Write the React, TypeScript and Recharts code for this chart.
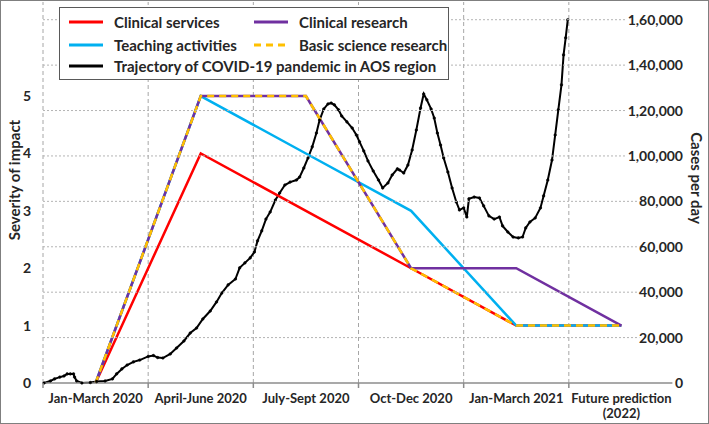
import React from 'react';
import { LineChart, Line, XAxis, YAxis, ReferenceLine, Label } from 'recharts';

const quarters = [
  'Jan-March 2020',
  'April-June 2020',
  'July-Sept 2020',
  'Oct-Dec 2020',
  'Jan-March 2021',
  'Future prediction (2022)',
];

// severity of impact per quarter (0-5)
const clinicalServices = [0, 4, 3, 2, 1, 1];
const teachingActivities = [0, 5, 4, 3, 1, 1];
const clinicalResearch = [0, 5, 5, 2, 2, 1];
const basicScienceResearch = [0, 5, 5, 2, 1, 1];

const severityTicks = [0, 1, 2, 3, 4, 5];
const casesTicks = [0, 20000, 40000, 60000, 80000, 100000, 120000, 140000, 160000];

// COVID-19 trajectory: time in quarters since Jan 2020, cases per day
const covidTime = [
  0.01, 0.07, 0.11, 0.16, 0.2, 0.23, 0.26, 0.29, 0.3, 0.32,
  0.37, 0.45, 0.51, 0.59, 0.66, 0.7, 0.75, 0.8, 0.86, 0.92,
  1.0, 1.05, 1.09, 1.14, 1.21, 1.27, 1.34, 1.4, 1.46, 1.52,
  1.59, 1.65, 1.7, 1.76, 1.83, 1.87, 1.92, 1.97, 2.01, 2.04,
  2.08, 2.12, 2.16, 2.21, 2.25, 2.3, 2.35, 2.41, 2.44, 2.48,
  2.52, 2.56, 2.6, 2.63, 2.67, 2.71, 2.74, 2.77, 2.81, 2.84,
  2.89, 2.94, 2.98, 3.01, 3.05, 3.09, 3.14, 3.19, 3.23, 3.28,
  3.32, 3.37, 3.39, 3.43, 3.47, 3.51, 3.55, 3.59, 3.62, 3.65,
  3.69, 3.72, 3.75, 3.78, 3.81, 3.85, 3.89, 3.93, 3.96, 4.0,
  4.03, 4.05, 4.1, 4.15, 4.19, 4.24, 4.29, 4.34, 4.37, 4.42,
  4.47, 4.52, 4.56, 4.59, 4.63, 4.68, 4.73, 4.76, 4.8, 4.84,
  4.87, 4.9, 4.93, 4.95, 4.97, 4.99,
];
const covidCases = [
  0, 900, 1800, 2600, 3100, 4000, 4000, 4000, 2600, 900,
  0, 200, 700, 900, 1800, 4000, 6200, 7900, 9300, 10100,
  11700, 12100, 11200, 11000, 12800, 15400, 18500, 22000, 24200, 28200,
  31700, 35700, 39600, 43200, 45800, 50700, 52900, 55100, 57700, 62600,
  67000, 72200, 75300, 80600, 83700, 87200, 88500, 89400, 90700, 94700,
  99100, 104000, 110100, 115800, 120700, 122900, 123300, 122500, 120300, 117600,
  115000, 112300, 109200, 106200, 102200, 97800, 93400, 89400, 85900, 88100,
  91600, 94300, 93800, 92500, 96000, 102600, 111400, 121100, 127300, 124700,
  120700, 116700, 110100, 104800, 99100, 92900, 85900, 79700, 76200, 77100,
  73100, 81100, 81900, 81500, 78000, 73600, 72200, 73100, 69200, 66500,
  64300, 63900, 64300, 68300, 70900, 72700, 77100, 82400, 89400, 98200,
  109200, 120300, 131300, 144500, 152000, 160000,
];

const impactData = quarters.map((q, i) => ({
  t: i + 0.5,
  clinicalServices: clinicalServices[i],
  teachingActivities: teachingActivities[i],
  clinicalResearch: clinicalResearch[i],
  basicScienceResearch: basicScienceResearch[i],
}));

const covidData = covidTime.map((t, i) => ({ t, cases: covidCases[i] }));

// boundaries get tick marks, half steps get the quarter labels
const xTicks = quarters.flatMap((_, i) => [i, i + 0.5]);

const FONT = 'Lato, "Open Sans", sans-serif';
const TEXT = '#262626';
const LEFT_AXIS_WIDTH = 43;

const legendItems = [
  { name: 'Clinical services', color: '#ff0000', dashed: false },
  { name: 'Clinical research', color: '#7030a0', dashed: false },
  { name: 'Teaching activities', color: '#00b0f0', dashed: false },
  { name: 'Basic science research', color: '#ffc000', dashed: true },
  { name: 'Trajectory of COVID-19 pandemic in AOS region', color: '#000000', dashed: false },
];

// 160000 -> 1,60,000
function formatIndian(n: number) {
  const s = String(Math.round(n));
  if (s.length <= 3) return s;
  const last3 = s.slice(-3);
  const rest = s.slice(0, -3).replace(/\B(?=(\d{2})+(?!\d))/g, ',');
  return rest + ',' + last3;
}

const QuarterTick = ({ x, y, payload }: any) => {
  const v = payload.value;
  if (Number.isInteger(v)) {
    return <line x1={x} x2={x} y1={y} y2={y + 5} stroke="#8c8c8c" strokeWidth={1.5} />;
  }
  const label = quarters[Math.floor(v)];
  const parts = label.includes(' (') ? [label.split(' (')[0], '(' + label.split(' (')[1]] : [label];
  return (
    <text x={x} y={y + 20} textAnchor="middle" fill={TEXT} fontSize={13} fontWeight={700} fontFamily={FONT}>
      {parts.map((p, i) => (
        <tspan key={i} x={x} dy={i === 0 ? 0 : 15}>{p}</tspan>
      ))}
    </text>
  );
};

// right-axis tick: dotted gridline across the plot, then the label on a white patch
const CasesTick = ({ x, y, payload }: any) => {
  const label = formatIndian(payload.value);
  const w = label.length * 6.6 + 4;
  return (
    <g>
      {payload.value > 0 && (
        <line x1={LEFT_AXIS_WIDTH} x2={x} y1={y} y2={y} stroke="#b4b4b4" strokeWidth={1} strokeDasharray="2 2" />
      )}
      <rect x={x + 9 - w} y={y - 8} width={w + 1} height={16} fill="#ffffff" />
      <text x={x + 9} y={y} dy={5} textAnchor="end" fill={TEXT} fontSize={14} fontWeight={700} fontFamily={FONT}>
        {label}
      </text>
    </g>
  );
};

const Swatch = ({ color, dashed }: { color: string; dashed: boolean }) => (
  <svg width={34} height={6} style={{ marginRight: 11, flex: 'none' }}>
    <line x1={0} x2={34} y1={3} y2={3} stroke={color} strokeWidth={3} strokeDasharray={dashed ? '7 5' : undefined} />
  </svg>
);

const ChartLegend = () => {
  const slots = [
    { left: 9, top: 3 },
    { left: 194, top: 3 },
    { left: 9, top: 26 },
    { left: 194, top: 26 },
    { left: 9, top: 47 },
  ];
  return (
    <div
      style={{
        position: 'absolute',
        left: 59,
        top: 7,
        width: 390,
        height: 73,
        boxSizing: 'border-box',
        border: '1.5px solid #595959',
        background: '#fff',
      }}
    >
      {legendItems.map((item, i) => (
        <div
          key={item.name}
          style={{
            position: 'absolute',
            left: slots[i].left,
            top: slots[i].top,
            height: 22,
            display: 'flex',
            alignItems: 'center',
            whiteSpace: 'nowrap',
            fontFamily: FONT,
            fontWeight: 700,
            fontSize: 15,
            color: TEXT,
          }}
        >
          <Swatch color={item.color} dashed={item.dashed} />
          {item.name}
        </div>
      ))}
    </div>
  );
};

export default function App() {
  return (
    <div style={{ position: 'fixed', left: 0, top: 0, width: 709, height: 424, background: '#fff' }}>
      <LineChart width={709} height={424} margin={{ top: 2, right: 0, bottom: 0, left: 0 }}>
        <XAxis
          xAxisId="q"
          type="number"
          dataKey="t"
          domain={[0, 6]}
          ticks={xTicks}
          interval={0}
          height={41}
          tickSize={0}
          tickMargin={0}
          tickLine={false}
          axisLine={{ stroke: '#8c8c8c', strokeWidth: 1.5 }}
          tick={<QuarterTick />}
        />
        <YAxis
          yAxisId="right"
          orientation="right"
          type="number"
          domain={[0, 167800]}
          ticks={casesTicks}
          width={35}
          tickSize={0}
          tickMargin={0}
          axisLine={false}
          tickLine={false}
          tick={<CasesTick />}
        >
          <Label
            content={() => (
              <text
                x={697}
                y={178}
                transform="rotate(90 697 178)"
                textAnchor="middle"
                dominantBaseline="central"
                fill={TEXT}
                fontSize={15}
                fontWeight={700}
                fontFamily={FONT}
              >
                Cases per day
              </text>
            )}
          />
        </YAxis>
        <YAxis
          yAxisId="left"
          orientation="left"
          type="number"
          domain={[0, 6.64]}
          ticks={severityTicks}
          width={LEFT_AXIS_WIDTH}
          tickSize={0}
          tickMargin={12}
          axisLine={false}
          tickLine={false}
          tick={{ fill: TEXT, fontSize: 14, fontWeight: 700, fontFamily: FONT }}
        >
          <Label
            content={() => (
              <text
                x={14}
                y={180}
                transform="rotate(-90 14 180)"
                textAnchor="middle"
                dominantBaseline="central"
                fill={TEXT}
                fontSize={15}
                fontWeight={700}
                fontFamily={FONT}
              >
                Severity of impact
              </text>
            )}
          />
        </YAxis>
        {quarters.map((q, i) => (
          <ReferenceLine
            key={q}
            xAxisId="q"
            yAxisId="left"
            x={i}
            stroke="#a6a6a6"
            strokeDasharray="4 3"
          />
        ))}
        <Line
          xAxisId="q"
          yAxisId="right"
          data={covidData}
          dataKey="cases"
          type="linear"
          stroke="#000"
          strokeWidth={2}
          dot={{ r: 1.3, fill: '#000', stroke: '#000', strokeWidth: 0.5 }}
          isAnimationActive={false}
        />
        <Line xAxisId="q" yAxisId="left" data={impactData} dataKey="clinicalServices" type="linear" stroke="#ff0000" strokeWidth={2.5} dot={false} isAnimationActive={false} />
        <Line xAxisId="q" yAxisId="left" data={impactData} dataKey="teachingActivities" type="linear" stroke="#00b0f0" strokeWidth={2.5} dot={false} isAnimationActive={false} />
        <Line xAxisId="q" yAxisId="left" data={impactData} dataKey="clinicalResearch" type="linear" stroke="#7030a0" strokeWidth={2.5} dot={false} isAnimationActive={false} />
        <Line xAxisId="q" yAxisId="left" data={impactData} dataKey="basicScienceResearch" type="linear" stroke="#ffc000" strokeWidth={2.5} strokeDasharray="7 5" dot={false} isAnimationActive={false} />
      </LineChart>
      <ChartLegend />
      <div
        style={{
          position: 'absolute',
          left: 0,
          top: 0,
          width: 709,
          height: 424,
          boxSizing: 'border-box',
          border: '1.5px solid #7f7f7f',
          pointerEvents: 'none',
        }}
      />
    </div>
  );
}
